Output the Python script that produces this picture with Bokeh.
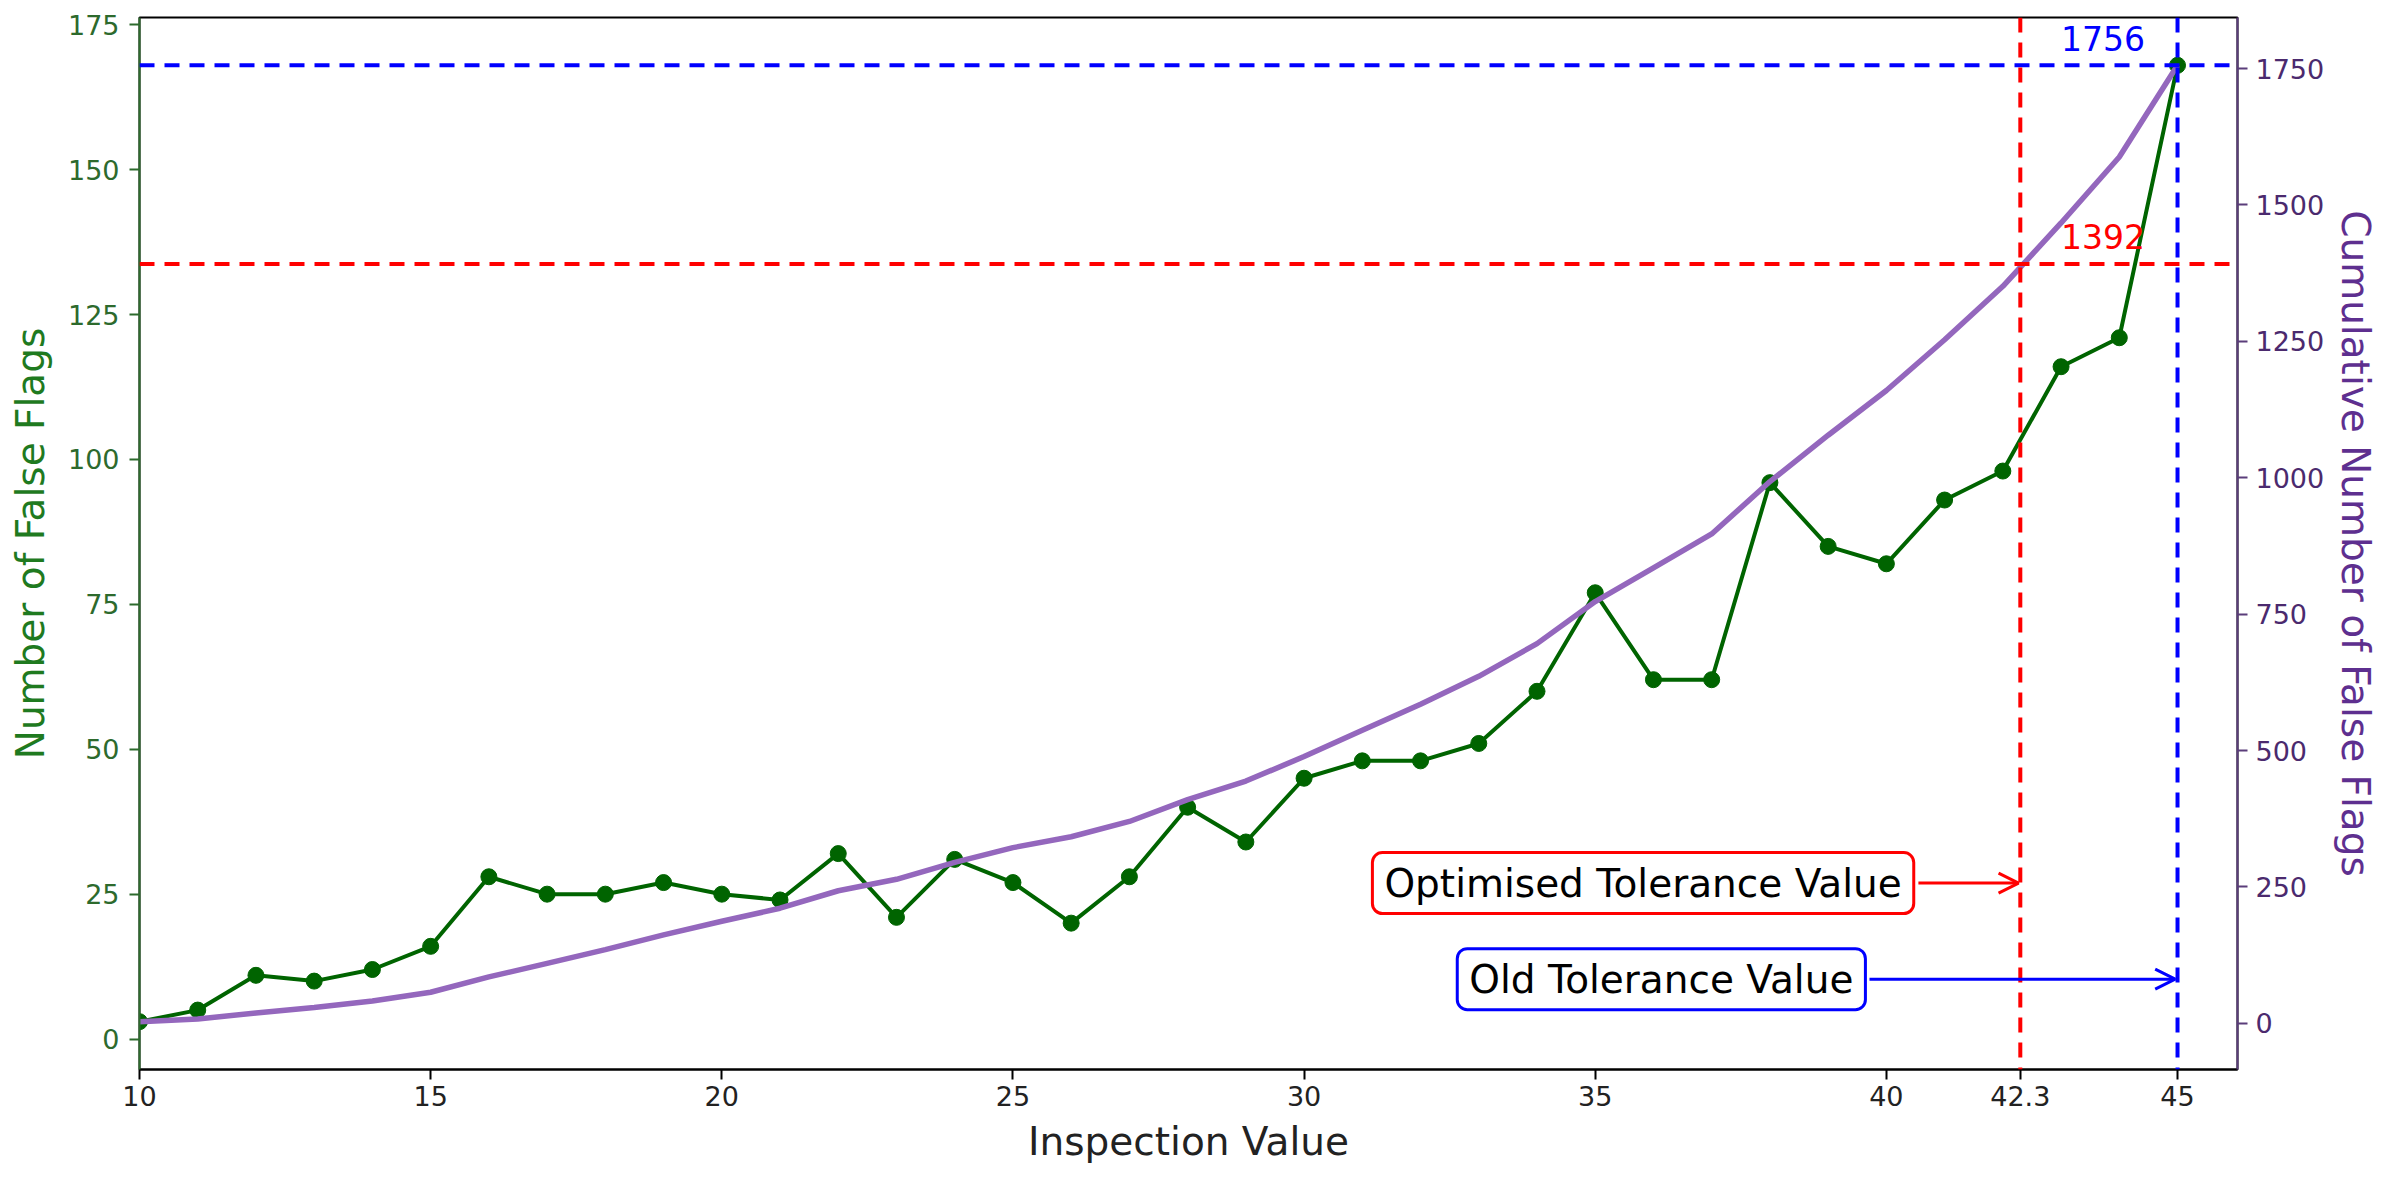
from bokeh.plotting import figure
from bokeh.models import (Range1d, LinearAxis, FixedTicker, CustomJSTickFormatter,
                          Span, Label, Arrow, OpenHead)
from bokeh.embed import file_html
from bokeh.resources import INLINE

# ---------------- data ----------------
inspection = list(range(10, 46))
false_flags = [3, 5, 11, 10, 12, 16, 28, 25, 25, 27, 25, 24, 32, 21, 31, 27, 20, 28,
               40, 34, 45, 48, 48, 51, 60, 77, 62, 62, 96, 85, 82, 93, 98, 116, 121, 168]
cumulative = [3, 8, 19, 29, 41, 57, 85, 110, 135, 162, 187, 211, 243, 264, 295, 322, 342, 370,
              410, 444, 489, 537, 585, 636, 696, 773, 835, 897, 993, 1078, 1160, 1253, 1351, 1467, 1588, 1756]
x_ticks = [10, 15, 20, 25, 30, 35, 40, 42.3, 45]
left_ticks = [0, 25, 50, 75, 100, 125, 150, 175]
right_ticks = [0, 250, 500, 750, 1000, 1250, 1500, 1750]
optimised_tol = 42.3
old_tol = 45
optimised_cum = 1392
old_cum = 1756
optimised_text = "Optimised Tolerance Value"
old_text = "Old Tolerance Value"

FONT = "DejaVu Sans"
GREEN_DARK = "#006400"
GREEN_LBL = "#1f7a1f"
PURPLE_LINE = "#9467bd"
PURPLE_LBL = "#5e2f8f"
PURPLE_TICK = "#4b2a6e"

p = figure(frame_width=2098, frame_height=1052,
           x_range=Range1d(10, 46.03), y_range=Range1d(-5.25, 176.25),
           output_backend="svg", toolbar_location=None,
           min_border_left=139, min_border_right=138,
           min_border_top=17, min_border_bottom=106)
p.extra_y_ranges = {"cum": Range1d(-84.65, 1843.65)}
p.xgrid.visible = False
p.ygrid.visible = False
p.outline_line_color = "black"
p.outline_line_width = 2
p.background_fill_color = "white"
p.border_fill_color = "white"

raxis = LinearAxis(y_range_name="cum")
p.add_layout(raxis, "right")


def style_axis(ax, tick_color, label_color, line_color):
    ax.major_tick_out = 10
    ax.major_tick_in = 0
    ax.minor_tick_out = 0
    ax.minor_tick_in = 0
    ax.major_tick_line_width = 2
    ax.major_tick_line_color = line_color
    ax.axis_line_width = 2
    ax.axis_line_color = line_color
    ax.major_label_text_font = FONT
    ax.major_label_text_font_size = "27px"
    ax.major_label_text_color = tick_color
    ax.axis_label_text_font = FONT
    ax.axis_label_text_font_size = "39px"
    ax.axis_label_text_font_style = "normal"
    ax.axis_label_text_color = label_color


xax = p.xaxis[0]
style_axis(xax, "#222222", "#222222", "black")
xax.ticker = FixedTicker(ticks=x_ticks)
xax.formatter = CustomJSTickFormatter(code="return (Math.round(tick*10)/10).toString();")
xax.axis_label = "Inspection Value"
xax.major_label_standoff = 6
xax.axis_label_standoff = 10

yax = p.yaxis[0]
style_axis(yax, "#2d6a2d", GREEN_LBL, "#2d6a2d")
yax.ticker = FixedTicker(ticks=left_ticks)
yax.axis_label = "Number of False Flags"
yax.major_label_standoff = 10
yax.axis_label_standoff = 12

style_axis(raxis, PURPLE_TICK, PURPLE_LBL, "#5a3d7a")
raxis.ticker = FixedTicker(ticks=right_ticks)
raxis.axis_label = "Cumulative Number of False Flags"
raxis.major_label_standoff = 8
raxis.axis_label_standoff = 6

# ---------------- series ----------------
p.line(inspection, false_flags, line_color=GREEN_DARK, line_width=4)
p.scatter(inspection, false_flags, size=16, fill_color=GREEN_DARK, line_color=GREEN_DARK)
p.line(inspection, cumulative, y_range_name="cum", line_color=PURPLE_LINE, line_width=5.5)

# ---------------- reference lines ----------------
dash = "15 10"
p.add_layout(Span(location=optimised_cum, dimension="width", y_range_name="cum",
                  line_color="red", line_dash=dash, line_width=4))
p.add_layout(Span(location=old_cum, dimension="width", y_range_name="cum",
                  line_color="blue", line_dash=dash, line_width=4))
p.add_layout(Span(location=optimised_tol, dimension="height",
                  line_color="red", line_dash=dash, line_width=4))
p.add_layout(Span(location=old_tol, dimension="height",
                  line_color="blue", line_dash=dash, line_width=4))

# value labels
p.add_layout(Label(x=old_tol - 2, y=old_cum + 49, y_range_name="cum", text=str(old_cum),
                   text_color="blue", text_font=FONT, text_font_size="33px",
                   text_baseline="alphabetic"))
p.add_layout(Label(x=old_tol - 2, y=optimised_cum + 50, y_range_name="cum", text=str(optimised_cum),
                   text_color="red", text_font=FONT, text_font_size="33px",
                   text_baseline="alphabetic"))

# ---------------- annotations ----------------
opt_y = 257
old_y = 81
p.add_layout(Label(x=40.47, y=opt_y, y_range_name="cum", text=optimised_text,
                   text_align="right", text_baseline="middle", text_color="black",
                   text_font=FONT, text_font_size="39px",
                   background_fill_color="white", border_line_color="red",
                   border_line_width=3, padding=(12, 8), border_radius=10))
p.add_layout(Arrow(end=OpenHead(size=20, line_color="red", line_width=3),
                   x_start=40.55, y_start=opt_y, x_end=optimised_tol - 0.03, y_end=opt_y,
                   y_range_name="cum", line_color="red", line_width=3))

p.add_layout(Label(x=39.64, y=old_y, y_range_name="cum", text=old_text,
                   text_align="right", text_baseline="middle", text_color="black",
                   text_font=FONT, text_font_size="39px",
                   background_fill_color="white", border_line_color="blue",
                   border_line_width=3, padding=(12, 8), border_radius=10))
p.add_layout(Arrow(end=OpenHead(size=20, line_color="blue", line_width=3),
                   x_start=39.71, y_start=old_y, x_end=old_tol - 0.04, y_end=old_y,
                   y_range_name="cum", line_color="blue", line_width=3))

open("out.html", "w").write(file_html(p, INLINE))
